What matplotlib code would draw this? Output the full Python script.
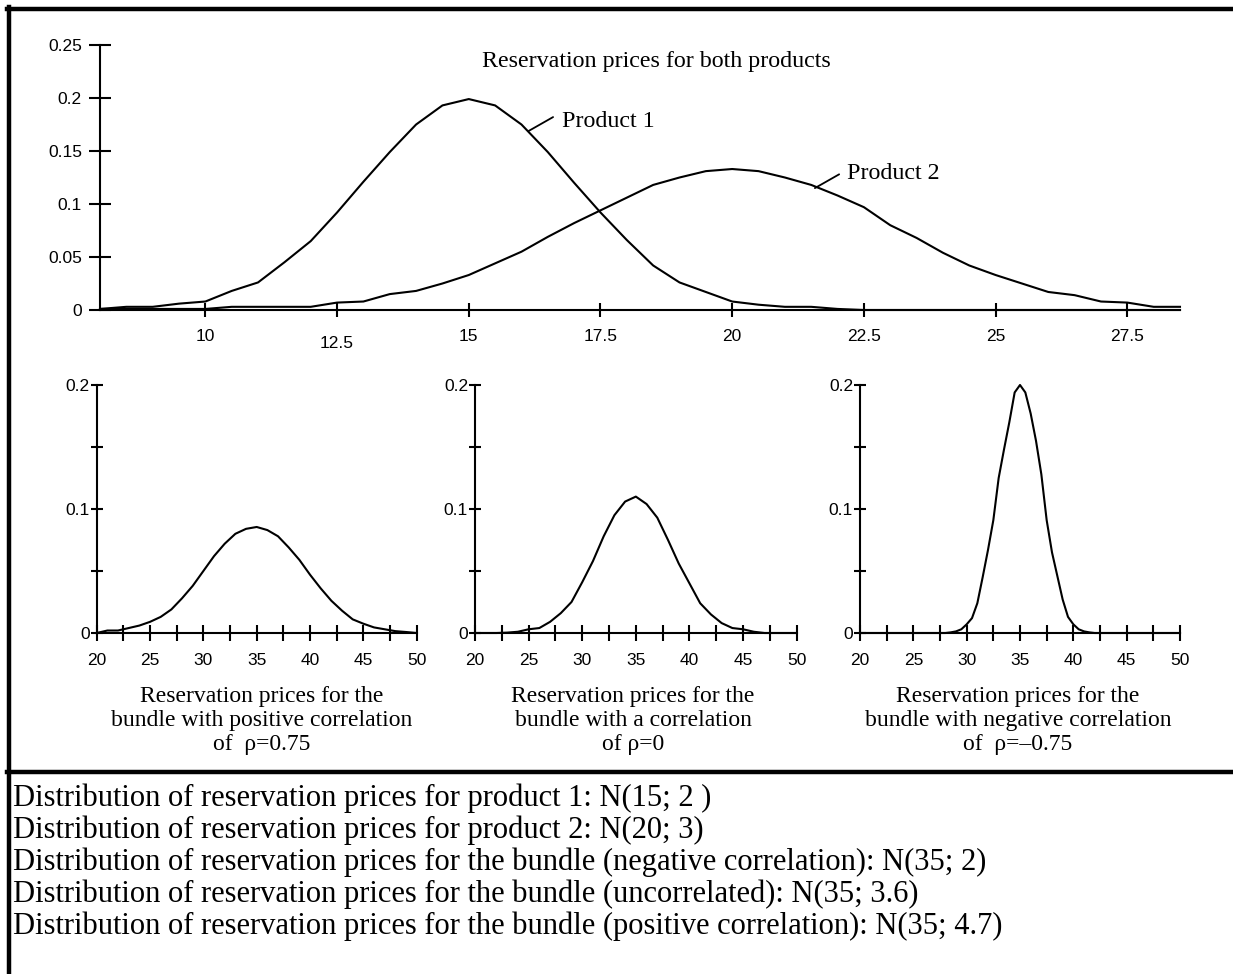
import numpy as np
import matplotlib
matplotlib.use("Agg")
import matplotlib.pyplot as plt
from matplotlib.lines import Line2D

# ---------------- data ----------------
top_x = [8.0, 8.5, 9.0, 9.5, 10.0, 10.5, 11.0, 11.5, 12.0, 12.5, 13.0, 13.5, 14.0, 14.5,
         15.0, 15.5, 16.0, 16.5, 17.0, 17.5, 18.0, 18.5, 19.0, 19.5, 20.0, 20.5, 21.0,
         21.5, 22.0, 22.5, 23.0, 23.5, 24.0, 24.5, 25.0, 25.5, 26.0, 26.5, 27.0, 27.5,
         28.0, 28.5]
product1 = [0.001, 0.003, 0.003, 0.006, 0.008, 0.018, 0.026, 0.045, 0.065, 0.092, 0.121,
            0.149, 0.175, 0.193, 0.199, 0.193, 0.175, 0.149, 0.120, 0.092, 0.066, 0.042,
            0.026, 0.017, 0.008, 0.005, 0.003, 0.003, 0.001, 0.0, 0.0, 0.0, 0.0, 0.0, 0.0,
            0.0, 0.0, 0.0, 0.0, 0.0, 0.0, 0.0]
product2 = [0.001, 0.001, 0.001, 0.001, 0.001, 0.003, 0.003, 0.003, 0.003, 0.007, 0.008,
            0.015, 0.018, 0.025, 0.033, 0.044, 0.055, 0.069, 0.082, 0.094, 0.106, 0.118,
            0.125, 0.131, 0.133, 0.131, 0.125, 0.118, 0.108, 0.097, 0.080, 0.068, 0.054,
            0.042, 0.033, 0.025, 0.017, 0.014, 0.008, 0.007, 0.003, 0.003]

bundle_x = list(range(20, 51))
bundle_pos = [0.0, 0.002, 0.002, 0.004, 0.006, 0.009, 0.013, 0.019, 0.028, 0.038, 0.050,
              0.062, 0.072, 0.080, 0.084, 0.0855, 0.083, 0.078, 0.069, 0.059, 0.047, 0.036,
              0.026, 0.018, 0.011, 0.0075, 0.0045, 0.003, 0.0015, 0.0008, 0.0]
bundle_zero = [0.0, 0.0, 0.0, 0.0003, 0.001, 0.003, 0.004, 0.009, 0.016, 0.025, 0.041,
               0.058, 0.078, 0.095, 0.106, 0.110, 0.104, 0.093, 0.075, 0.056, 0.040, 0.024,
               0.015, 0.008, 0.004, 0.003, 0.001, 0.0, 0.0, 0.0, 0.0]
neg_x = [20.0, 28.0, 28.5, 29.0, 29.5, 30.0, 30.5, 31.0, 31.5, 32.0, 32.5, 33.0, 33.5, 34.0,
         34.5, 35.0, 35.5, 36.0, 36.5, 37.0, 37.5, 38.0, 38.5, 39.0, 39.5, 40.0, 40.5, 41.0,
         41.5, 42.0, 50.0]
bundle_neg = [0.0, 0.0, 0.0005, 0.0013, 0.003, 0.007, 0.012, 0.024, 0.045, 0.067, 0.091,
              0.125, 0.148, 0.170, 0.194, 0.200, 0.194, 0.177, 0.155, 0.128, 0.091, 0.065,
              0.046, 0.027, 0.013, 0.007, 0.003, 0.0013, 0.0005, 0.0, 0.0]

top_yticks = [0, 0.05, 0.1, 0.15, 0.2, 0.25]
top_yticklabels = ["0", "0.05", "0.1", "0.15", "0.2", "0.25"]
top_xticks = [10, 15, 17.5, 20, 22.5, 25, 27.5]
top_xticklabels = ["10", "15", "17.5", "20", "22.5", "25", "27.5"]
top_xtick_low = [12.5]
top_xtick_low_label = ["12.5"]

bundle_xticks = [20, 25, 30, 35, 40, 45, 50]
bundle_xticklabels = ["20", "25", "30", "35", "40", "45", "50"]
bundle_xminor = [22.5, 27.5, 32.5, 37.5, 42.5, 47.5]
bundle_yticks = [0, 0.1, 0.2]
bundle_yticklabels = ["0", "0.1", "0.2"]
bundle_yminor = [0.05, 0.15]

captions = [
    "Reservation prices for the\nbundle with positive correlation\nof  \u03c1=0.75",
    "Reservation prices for the\nbundle with a correlation\nof \u03c1=0",
    "Reservation prices for the\nbundle with negative correlation\nof  \u03c1=\u20130.75",
]
notes = [
    "Distribution of reservation prices for product 1: N(15; 2 )",
    "Distribution of reservation prices for product 2: N(20; 3)",
    "Distribution of reservation prices for the bundle (negative correlation): N(35; 2)",
    "Distribution of reservation prices for the bundle (uncorrelated): N(35; 3.6)",
    "Distribution of reservation prices for the bundle (positive correlation): N(35; 4.7)",
]

# label leaders: (curve point, leader end, text anchor)
labels = [
    ("Product 1", (16.14, 0.169), (16.60, 0.182), (16.77, 0.178)),
    ("Product 2", (21.57, 0.115), (22.03, 0.128), (22.18, 0.129)),
]

# ---------------- figure ----------------
W, H = 1233, 974
fig = plt.figure(figsize=(W / 100, H / 100), dpi=100)
SANS = ["Liberation Sans", "DejaVu Sans"]
SERIF = ["Liberation Serif", "DejaVu Serif"]
LW = 1.5


def fx(px):
    return px / W


def fy(py):
    return 1 - py / H


def style_axes(ax):
    for s in ("top", "right"):
        ax.spines[s].set_visible(False)
    for s in ("left", "bottom"):
        ax.spines[s].set_linewidth(LW)
    ax.patch.set_alpha(0)


# top chart
ax = fig.add_axes([fx(100), fy(310), fx(1180) - fx(100), fy(45) - fy(310)])
style_axes(ax)
ax.plot(top_x, product1, color="black", lw=LW, clip_on=False)
ax.plot(top_x, product2, color="black", lw=LW, clip_on=False)
ax.set_xlim(8, 28.5)
ax.set_ylim(0, 0.25)
ax.set_yticks(top_yticks)
ax.set_yticklabels(top_yticklabels, family=SANS, fontsize=12.5)
ax.set_xticks(top_xticks)
ax.set_xticklabels(top_xticklabels, family=SANS, fontsize=12.5)
ax.set_xticks(top_xtick_low, minor=True)
ax.set_xticklabels(top_xtick_low_label, minor=True, family=SANS, fontsize=12.5)
ax.tick_params(axis="y", which="major", direction="inout", length=16, width=LW, pad=5)
ax.tick_params(axis="x", which="both", direction="inout", length=10, width=LW)
ax.tick_params(axis="x", which="major", pad=9)
ax.tick_params(axis="x", which="minor", pad=14)

for name, p0, p1, pt in labels:
    ax.annotate("", xy=p0, xytext=p1,
                arrowprops=dict(arrowstyle="-", lw=1.3, color="black",
                                shrinkA=0, shrinkB=0))
    ax.text(pt[0], pt[1], name, family=SERIF, fontsize=17.3, va="center", ha="left")

fig.text(fx(656), fy(62), "Reservation prices for both products",
         family=SERIF, fontsize=17.3, ha="center", va="center")

# bundle charts
panels = [
    (96.7, 416.7, bundle_x, bundle_pos, 262),
    (475, 796.7, bundle_x, bundle_zero, 633),
    (860, 1180, neg_x, bundle_neg, 1018),
]
for (x0, x1, xs, ys, cx), cap in zip(panels, captions):
    a = fig.add_axes([fx(x0), fy(633), fx(x1) - fx(x0), fy(385) - fy(633)])
    style_axes(a)
    a.plot(xs, ys, color="black", lw=LW, clip_on=False)
    a.set_xlim(20, 50)
    a.set_ylim(0, 0.2)
    a.set_xticks(bundle_xticks)
    a.set_xticklabels(bundle_xticklabels, family=SANS, fontsize=12.5)
    a.set_xticks(bundle_xminor, minor=True)
    a.set_yticks(bundle_yticks)
    a.set_yticklabels(bundle_yticklabels, family=SANS, fontsize=12.5)
    a.set_yticks(bundle_yminor, minor=True)
    a.tick_params(axis="x", which="both", direction="inout", length=11, width=LW, pad=9)
    a.tick_params(axis="y", which="both", direction="inout", length=8, width=LW, pad=1)
    fig.text(fx(cx), fy(686), cap, family=SERIF, fontsize=17, ha="center",
             va="top", linespacing=1.18)

# text lines below
for i, line in enumerate(notes):
    fig.text(fx(13), fy(806 + 32 * i), line, family=SERIF, fontsize=22,
             ha="left", va="baseline")

# frame lines
fw = 3.2
fig.add_artist(Line2D([fx(7), 1.0], [fy(9), fy(9)], color="black", lw=fw))
fig.add_artist(Line2D([fx(9), fx(9)], [fy(7), 0.0], color="black", lw=fw))
fig.add_artist(Line2D([fx(7), 1.0], [fy(772), fy(772)], color="black", lw=fw))

fig.savefig("out.png", dpi=100)
